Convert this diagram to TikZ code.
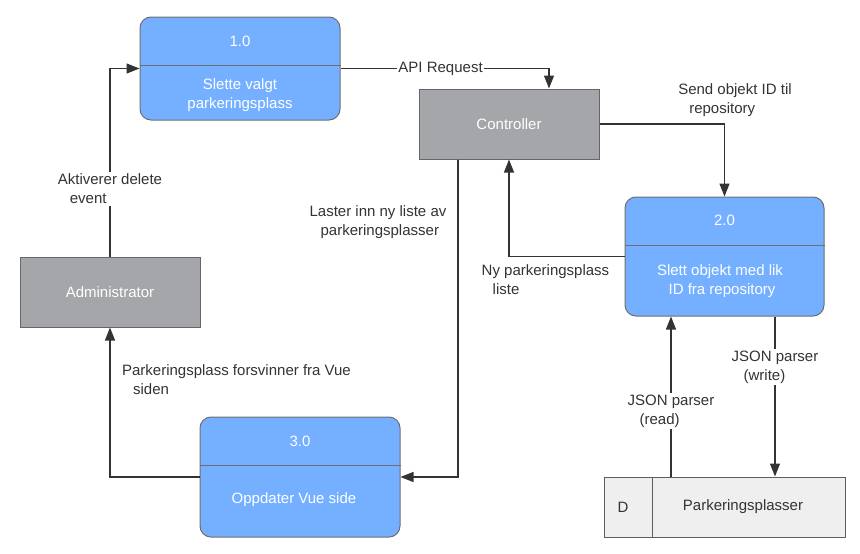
\documentclass[tikz,border=0pt]{standalone}
\usepackage{fontspec}
\setmainfont{Liberation Sans}
\usetikzlibrary{arrows.meta}
\definecolor{procblue}{HTML}{74B0FF}
\definecolor{procedge}{HTML}{6E6E72}
\definecolor{entgray}{HTML}{A5A6AA}
\definecolor{entedge}{HTML}{66666A}
\definecolor{storefill}{HTML}{EFEFEF}
\definecolor{storeedge}{HTML}{5E5E5E}
\definecolor{ink}{HTML}{333333}
\tikzset{
  proc/.style={draw=procedge, fill=procblue, rounded corners=11pt, line width=1pt, inner sep=0pt},
  ent/.style={draw=entedge, fill=entgray, line width=1pt, inner sep=0pt, minimum width=180pt, minimum height=70pt, text=white, font=\fontsize{15}{18}\selectfont},
  wt/.style={text=white, font=\fontsize{15}{19}\selectfont, align=center, inner sep=0pt},
  divider/.style={draw=procedge, line width=1pt},
  flow/.style={draw=ink, line width=1.3pt, -{Triangle[length=13pt,width=10pt]}},
  lbl/.style={text=ink, font=\fontsize{15}{19}\selectfont, align=left, inner sep=2pt},
  lblw/.style={lbl, fill=white},
}
\begin{document}
\begin{tikzpicture}[x=1pt,y=-1pt]
\useasboundingbox (0,0) rectangle (860,554);

% Process 1.0
\node[proc, minimum width=200pt, minimum height=103pt] (p1) at (240,68.5) {};
\draw[divider] (p1.west |- 0,65) -- (p1.east |- 0,65);
\node[wt] (p1n) at (240,41) {1.0};
\node[wt] (p1t) at (240,95) {Slette valgt\\parkeringsplass};

% Controller
\node[ent] (ctrl) at (509,124) {Controller};

% Process 2.0
\node[proc, minimum width=199pt, minimum height=119pt] (p2) at (724.5,256.5) {};
\draw[divider] (p2.west |- 0,245) -- (p2.east |- 0,245);
\node[wt] (p2n) at (724.5,220) {2.0};
\node[wt] (p2t) at (720,281) {Slett objekt med lik\\\hspace*{4pt}ID fra repository};

% Administrator
\node[ent] (adm) at (110,292) {Administrator};

% Process 3.0
\node[proc, minimum width=200pt, minimum height=120pt] (p3) at (300,477) {};
\draw[divider] (p3.west |- 0,465) -- (p3.east |- 0,465);
\node[wt] (p3n) at (300,441) {3.0};
\node[wt] (p3t) at (294,500) {Oppdater Vue side};

% Data store
\node[draw=storeedge, fill=storefill, line width=1pt, minimum width=241pt, minimum height=60pt, inner sep=0pt] (ds) at (724.5,507) {};
\draw[draw=storeedge, line width=1pt] (ds.north -| 652,0) -- (ds.south -| 652,0);
\node[text=ink, font=\fontsize{15}{18}\selectfont, inner sep=0pt] (dsd) at (623,507) {D};
\node[text=ink, font=\fontsize{15}{18}\selectfont, inner sep=0pt] (dsn) at (743,507) {Parkeringsplasser};

% Connectors
\draw[flow] (adm.north) |- (p1.west);
\node[lblw] (l1) at (110,189) {Aktiverer delete\\\hspace*{12pt}event};

\draw[flow] (p1.east) -| ([xshift=40pt]ctrl.north)
  node[pos=0.24, fill=white, text=ink, font=\fontsize{15}{18}\selectfont, inner sep=1pt] {API Request};

\draw[flow] (ctrl.east) -| (p2.north);
\node[lbl] (l3) at (735,100) {Send objekt ID til\\\hspace*{11pt}repository};

\draw[flow] (p2.west) -| (ctrl.south);
\node[lbl] (l4) at (545.5,280) {Ny parkeringsplass\\\hspace*{11pt}liste};

\draw[flow] ([xshift=-51pt]ctrl.south) |- (p3.east);
\node[lbl] (l5) at (378,222) {Laster inn ny liste av\\\hspace*{11pt}parkeringsplasser};

\draw[flow] (p3.west) -| (adm.south);
\node[lbl] (l6) at (236.5,380) {Parkeringsplass forsvinner fra Vue\\\hspace*{11pt}siden};

\draw[flow] (ds.north -| 671,0) -- (p2.south -| 671,0);
\node[lblw] (l7) at (671,411) {JSON parser\\\hspace*{12pt}(read)};

\draw[flow] (p2.south -| 775,0) -- (ds.north -| 775,0);
\node[lblw] (l8) at (775,367) {JSON parser\\\hspace*{12pt}(write)};
\end{tikzpicture}
\end{document}
